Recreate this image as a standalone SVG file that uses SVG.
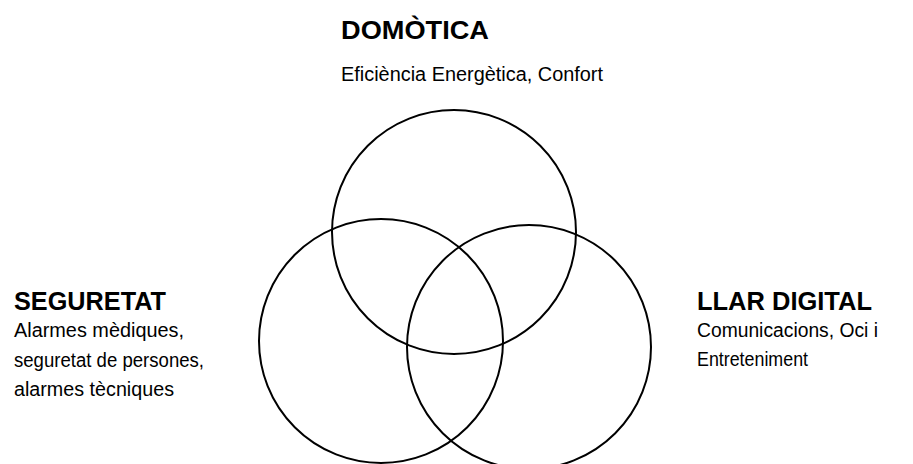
<svg xmlns="http://www.w3.org/2000/svg" width="913" height="464" viewBox="0 0 913 464">
<style>
.c{fill:none;stroke:#000;stroke-width:2}
.h{font-family:"Liberation Sans",Arial,sans-serif;font-weight:bold;font-size:25px;fill:#000}
.t{font-family:"Liberation Sans",Arial,sans-serif;font-size:20px;fill:#000}
</style>
<rect width="913" height="464" fill="#fff"/>
<g id="domotica">
<circle class="c" cx="454" cy="232" r="122"/>
<text class="h" x="341" y="39" textLength="148" lengthAdjust="spacingAndGlyphs">DOMÒTICA</text>
<text class="t" x="341" y="81" textLength="262" lengthAdjust="spacingAndGlyphs">Eficiència Energètica, Confort</text>
</g>
<g id="seguretat">
<circle class="c" cx="381" cy="341" r="122"/>
<text class="h" x="14" y="310" textLength="152" lengthAdjust="spacingAndGlyphs">SEGURETAT</text>
<text class="t" x="14" y="337" textLength="170" lengthAdjust="spacingAndGlyphs">Alarmes mèdiques,</text>
<text class="t" x="14" y="367" textLength="190" lengthAdjust="spacingAndGlyphs">seguretat de persones,</text>
<text class="t" x="14" y="396" textLength="160" lengthAdjust="spacingAndGlyphs">alarmes tècniques</text>
</g>
<g id="llar-digital">
<circle class="c" cx="529" cy="347" r="122"/>
<text class="h" x="697" y="310" textLength="175" lengthAdjust="spacingAndGlyphs">LLAR DIGITAL</text>
<text class="t" x="697" y="337" textLength="181" lengthAdjust="spacingAndGlyphs">Comunicacions, Oci i</text>
<text class="t" x="697" y="366" textLength="111" lengthAdjust="spacingAndGlyphs">Entreteniment</text>
</g>
<g id="connectors"></g>
</svg>
